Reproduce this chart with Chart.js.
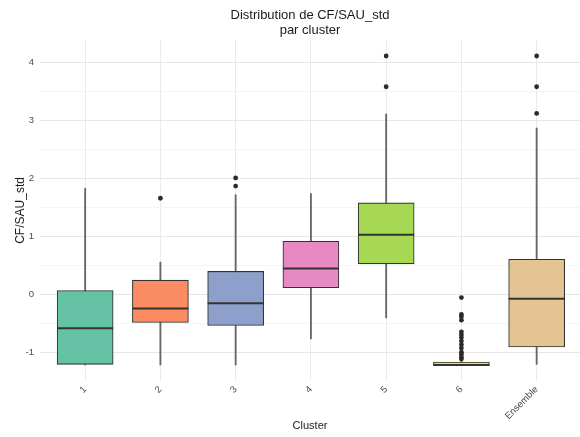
<!DOCTYPE html>
<html lang="fr">
<head>
<meta charset="UTF-8">
<title>Distribution de CF/SAU_std par cluster</title>
<script src="https://cdn.jsdelivr.net/npm/chart.js"></script>
<style>
  html, body { margin: 0; padding: 0; background: #fff; }
</style>
</head>
<body>
<canvas id="box-chart" width="580" height="437"></canvas>
<script>
// categories on the x axis
const clusters = ['1', '2', '3', '4', '5', '6', 'Ensemble'];

// boxplot stats per cluster
const whiskerLow  = [-1.21, -1.21, -1.21, -0.76, -0.40, -1.22, -1.20];
const q1          = [-1.20, -0.48, -0.53,  0.12,  0.53, -1.22, -0.90];
const median      = [-0.58, -0.24, -0.15,  0.45,  1.03, -1.21, -0.07];
const q3          = [ 0.07,  0.25,  0.40,  0.92,  1.58, -1.16,  0.61];
const whiskerHigh = [ 1.83,  0.56,  1.72,  1.74,  3.11, -1.13,  2.87];

// outliers per cluster
const outliers = [
  [],
  [1.66],
  [2.01, 1.87],
  [],
  [4.11, 3.58],
  [-0.05, -0.34, -0.38, -0.44, -0.64, -0.69, -0.74, -0.80, -0.86, -0.92, -0.99, -1.03, -1.08, -1.11],
  [4.11, 3.58, 3.12]
];

// y axis labels
const yTicks = [-1, 0, 1, 2, 3, 4];

const fills = ['#66C2A5', '#FC8D62', '#8DA0CB', '#E78AC3', '#A6D854', '#FFD92F', '#E5C494'];
const FONT = "'Liberation Sans', Arial, sans-serif";

// minor grid lines sit half way between the labelled ones
const yMinor = yTicks.slice(1).map((v, i) => (v + yTicks[i]) / 2);
const yGrid = yTicks.concat(yMinor).sort((a, b) => a - b);

const xs = clusters.map((_, i) => i + 1);
const boxes = xs.map((x, i) => ({ x: x, y: [q1[i], q3[i]] }));
const whiskers = xs.map((x, i) => ({ x: x, y: [whiskerLow[i], whiskerHigh[i]] }));
const medians = xs.map((x, i) => ({ x: x, y: median[i] }));
const outlierPoints = [];
outliers.forEach((list, i) => list.forEach(v => outlierPoints.push({ x: i + 1, y: v })));

const ctx = document.getElementById('box-chart').getContext('2d');

new Chart(ctx, {
  type: 'bar',
  data: {
    datasets: [
      {
        type: 'scatter',
        data: outlierPoints,
        pointRadius: 2.4,
        pointBackgroundColor: '#2b2b2b',
        pointBorderWidth: 0,
        order: 0
      },
      {
        // median bars drawn as wide 'line' points
        type: 'scatter',
        data: medians,
        pointStyle: 'line',
        pointRadius: 28,
        pointBorderColor: '#333333',
        pointBorderWidth: 2,
        order: 1
      },
      {
        data: boxes,
        backgroundColor: fills,
        borderColor: '#333333',
        borderWidth: 1.1,
        borderSkipped: false,
        barThickness: 56,
        grouped: false,
        order: 2
      },
      {
        data: whiskers,
        backgroundColor: '#666666',
        barThickness: 1.2,
        grouped: false,
        order: 3
      }
    ]
  },
  options: {
    responsive: false,
    animation: false,
    layout: { padding: 0, autoPadding: false },
    plugins: {
      legend: { display: false },
      tooltip: { enabled: false },
      title: {
        display: true,
        text: ['Distribution de CF/SAU_std', 'par cluster'],
        fullSize: false,
        color: '#1a1a1a',
        font: { family: FONT, size: 13, weight: 'normal', lineHeight: 1.15 },
        padding: { top: 8, bottom: 2 }
      }
    },
    scales: {
      x: {
        type: 'linear',
        min: 0.4,
        max: 7.576,
        offset: false,
        afterBuildTicks: axis => { axis.ticks = xs.map(v => ({ value: v })); },
        afterFit: axis => {
          axis.height = 56;
          axis.paddingLeft = 0;
          axis.paddingRight = 0;
        },
        grid: { color: '#ebebeb', lineWidth: 1, drawTicks: false, offset: false },
        border: { display: false },
        ticks: {
          autoSkip: false,
          minRotation: 45,
          maxRotation: 45,
          padding: 3,
          color: '#4d4d4d',
          font: { family: FONT, size: 9.5 },
          callback: v => clusters[v - 1] ?? ''
        },
        title: {
          display: true,
          text: 'Cluster',
          color: '#1a1a1a',
          font: { family: FONT, size: 11 },
          padding: { top: 0, bottom: 4 }
        }
      },
      y: {
        min: -1.487,
        max: 4.387,
        afterBuildTicks: axis => { axis.ticks = yGrid.map(v => ({ value: v })); },
        afterFit: axis => {
          axis.width = 40;
          axis.paddingTop = 0;
          axis.paddingBottom = 0;
        },
        grid: {
          color: c => yTicks.includes(c.tick.value) ? '#e6e6e6' : '#f2f2f2',
          lineWidth: c => yTicks.includes(c.tick.value) ? 1 : 0.8,
          drawTicks: false
        },
        border: { display: false },
        ticks: {
          padding: 6,
          color: '#4d4d4d',
          font: { family: FONT, size: 9.5 },
          callback: v => yTicks.includes(v) ? String(v) : ''
        },
        title: {
          display: true,
          text: 'CF/SAU_std',
          color: '#1a1a1a',
          font: { family: FONT, size: 12 },
          padding: { top: 13, bottom: 0 }
        }
      }
    }
  }
});
</script>
</body>
</html>
